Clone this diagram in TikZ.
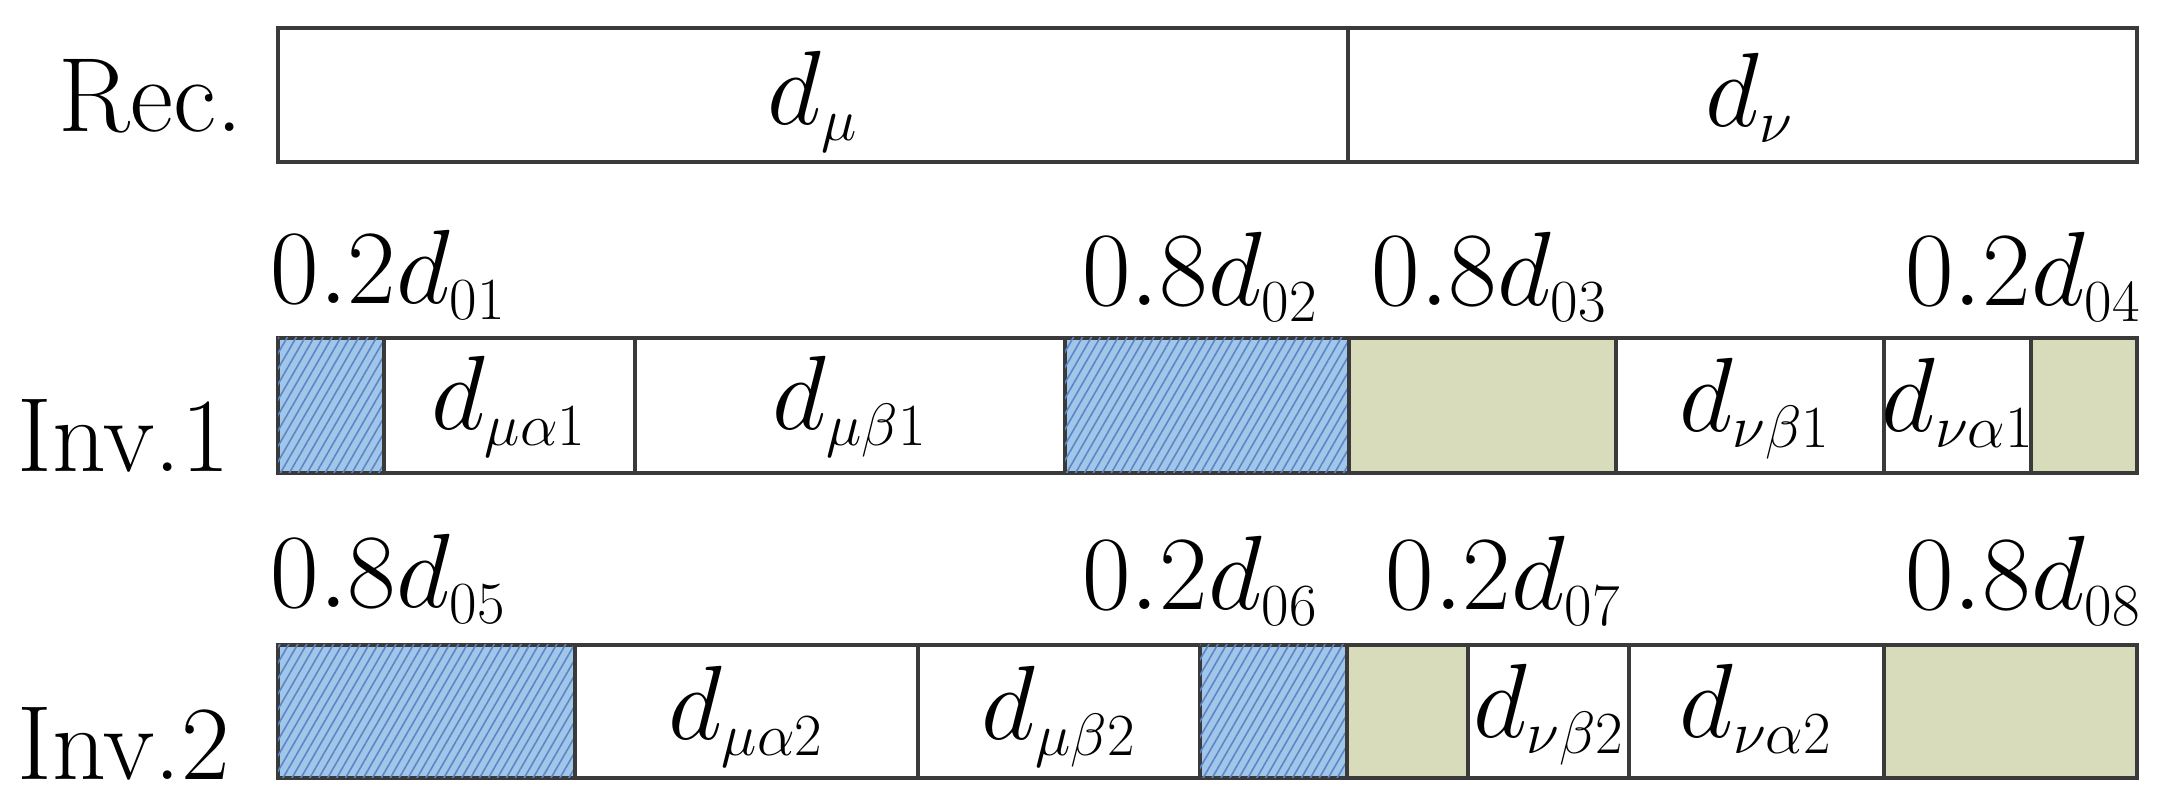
\RequirePackage{fix-cm}
\documentclass[tikz,border=0pt]{standalone}
\usetikzlibrary{patterns.meta}
\DeclareMathSizes{30}{30}{17}{13}
\definecolor{bluefill}{HTML}{A2C6EA}
\definecolor{bluehatch}{HTML}{5A86C6}
\definecolor{greenfill}{HTML}{D8DCBA}
\definecolor{edgecol}{HTML}{3A3A3A}
\begin{document}
\begin{tikzpicture}[x=0.01cm,y=-0.01cm,
  cellline/.style={draw=edgecol,line width=1.2pt},
  bluecell/.style={cellline,fill=bluefill,postaction={pattern={Lines[angle=60,distance=2.2pt,line width=0.45pt]},pattern color=bluehatch}},
  greencell/.style={cellline,fill=greenfill},
  whitecell/.style={cellline,fill=white},
  lab/.style={inner sep=0pt,font=\fontsize{30}{36}\selectfont},
]
\useasboundingbox (0,0) rectangle (2168,804);
% Rec. bar
\draw[whitecell] (278,28) rectangle (1348,162);
\draw[whitecell] (1348,28) rectangle (2137,162);
% Inv.1 bar
\draw[bluecell]  (278,338) rectangle (384,473);
\draw[whitecell] (384,338) rectangle (635,473);
\draw[whitecell] (635,338) rectangle (1065,473);
\draw[bluecell]  (1065,338) rectangle (1349,473);
\draw[greencell] (1349,338) rectangle (1616,473);
\draw[whitecell] (1616,338) rectangle (1884,473);
\draw[whitecell] (1884,338) rectangle (2031,473);
\draw[greencell] (2031,338) rectangle (2137,473);
% Inv.2 bar
\draw[bluecell]  (278,645) rectangle (575,778);
\draw[whitecell] (575,645) rectangle (918,778);
\draw[whitecell] (918,645) rectangle (1200,778);
\draw[bluecell]  (1200,645) rectangle (1347,778);
\draw[greencell] (1347,645) rectangle (1468,778);
\draw[whitecell] (1468,645) rectangle (1629,778);
\draw[whitecell] (1629,645) rectangle (1884,778);
\draw[greencell] (1884,645) rectangle (2137,778);
% row labels
\node[lab,anchor=base west] (rec) at (58,132) {Rec.};
\node[lab,anchor=base west] (inv1) at (17,472) {Inv.1};
\node[lab,anchor=base west] (inv2) at (17,780) {Inv.2};
% Rec cell labels
\node[lab,anchor=base] (dmu) at (813,125) {$d_{\mu}$};
\node[lab,anchor=base] (dnu) at (1750,127) {$d_{\nu}$};
% Inv.1 top labels
\node[lab,anchor=base west] (l01) at (270,304) {$0.2d_{01}$};
\node[lab,anchor=base east] (l02) at (1319,306) {$0.8d_{02}$};
\node[lab,anchor=base west] (l03) at (1371,306) {$0.8d_{03}$};
\node[lab,anchor=base east] (l04) at (2142,306) {$0.2d_{04}$};
% Inv.2 top labels
\node[lab,anchor=base west] (l05) at (270,608) {$0.8d_{05}$};
\node[lab,anchor=base east] (l06) at (1319,610) {$0.2d_{06}$};
\node[lab,anchor=base west] (l07) at (1385,610) {$0.2d_{07}$};
\node[lab,anchor=base east] (l08) at (2142,610) {$0.8d_{08}$};
% Inv.1 cell labels
\node[lab,anchor=base] (ma1) at (509,430) {$d_{\mu\alpha1}$};
\node[lab,anchor=base] (mb1) at (850,430) {$d_{\mu\beta1}$};
\node[lab,anchor=base] (nb1) at (1755,432) {$d_{\nu\beta1}$};
\node[lab,anchor=base] (na1) at (1958,432) {$d_{\nu\alpha1}$};
% Inv.2 cell labels
\node[lab,anchor=base] (ma2) at (746,740) {$d_{\mu\alpha2}$};
\node[lab,anchor=base] (mb2) at (1059,740) {$d_{\mu\beta2}$};
\node[lab,anchor=base] (nb2) at (1549,738) {$d_{\nu\beta2}$};
\node[lab,anchor=base] (na2) at (1756,738) {$d_{\nu\alpha2}$};
\end{tikzpicture}
\end{document}
